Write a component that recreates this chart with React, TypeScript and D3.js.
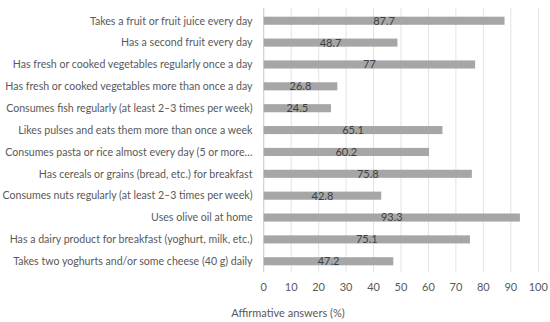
import React from "react";
import * as d3 from "d3";

const categories = [
  "Takes a fruit or fruit juice every day",
  "Has a second fruit every day",
  "Has fresh or cooked vegetables regularly once a day",
  "Has fresh or cooked vegetables more than once a day",
  "Consumes fish regularly (at least 2–3 times per week)",
  "Likes pulses and eats them more than once a week",
  "Consumes pasta or rice almost every day (5 or more…",
  "Has cereals or grains (bread, etc.) for breakfast",
  "Consumes nuts regularly (at least 2–3 times per week)",
  "Uses olive oil at home",
  "Has a dairy product for breakfast (yoghurt, milk, etc.)",
  "Takes two yoghurts and/or some cheese (40 g) daily",
];
const values = [87.7, 48.7, 77, 26.8, 24.5, 65.1, 60.2, 75.8, 42.8, 93.3, 75.1, 47.2];
const xTicks = [0, 10, 20, 30, 40, 50, 60, 70, 80, 90, 100];
const xTitle = "Affirmative answers (%)";

const W = 550;
const H = 322;
const FONT = "Lato, 'Open Sans', sans-serif";

export default function App() {
  const x = d3.scaleLinear().domain([0, 100]).range([263.7, 538.3]);
  const y = d3
    .scaleBand<string>()
    .domain(categories)
    .range([9.8, 272.2])
    .paddingInner(0.63)
    .paddingOuter(0.315);
  const [y0, y1] = y.range();
  return (
    <svg
      width={W}
      height={H}
      style={{ position: "absolute", left: 0, top: 0, background: "#fff" }}
      fontFamily={FONT}
    >
      {xTicks.map((t) => (
        <line key={"g" + t} x1={x(t)} x2={x(t)} y1={y0 - 2} y2={y1} stroke="#e3e3e3" strokeWidth={1} />
      ))}
      <line x1={x(0)} x2={x(0)} y1={y0 - 2} y2={y1} stroke="#cfcfcf" strokeWidth={1} />
      {categories.map((c, i) => (
        <g key={c}>
          <rect
            x={x(0)}
            y={y(c)}
            width={x(values[i]) - x(0)}
            height={y.bandwidth()}
            fill="#a6a6a6"
          />
          <text
            x={(x(0) + x(values[i])) / 2}
            y={y(c)! + y.bandwidth() / 2}
            dy="0.36em"
            textAnchor="middle"
            fontSize={11}
            fill="#404040"
          >
            {values[i]}
          </text>
          <text
            x={252.5}
            y={y(c)! + y.bandwidth() / 2}
            dy="0.36em"
            textAnchor="end"
            fontSize={10.6}
            fill="#595959"
          >
            {c}
          </text>
        </g>
      ))}
      {xTicks.map((t) => (
        <text key={"t" + t} x={x(t)} y={286.7} dy="0.36em" textAnchor="middle" fontSize={11} fill="#595959">
          {t}
        </text>
      ))}
      <text x={288} y={313} dy="0.36em" textAnchor="middle" fontSize={11} fill="#595959">
        {xTitle}
      </text>
    </svg>
  );
}
